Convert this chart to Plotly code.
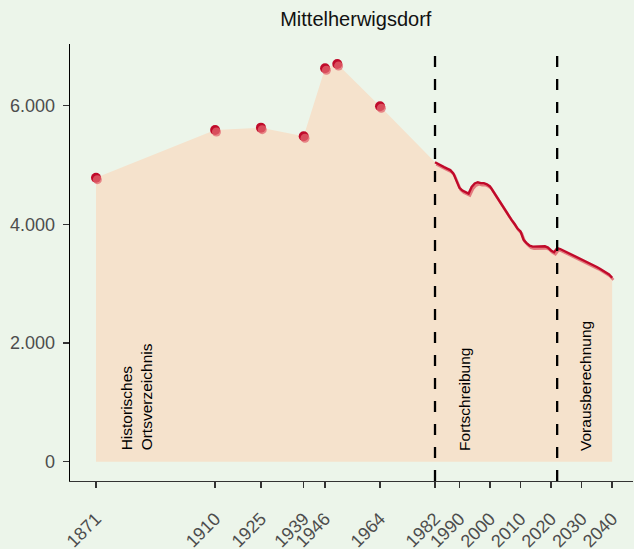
import plotly.graph_objects as go

# ---------------- data ----------------
years_hist = [1871, 1910, 1925, 1939, 1946, 1950, 1964]
pop_hist = [4787, 5591, 5630, 5485, 6631, 6703, 5990]

years_fort = [1982, 1983, 1984, 1985, 1986, 1987, 1988, 1989, 1990, 1991,
              1992, 1993, 1994, 1995, 1996, 1997, 1998, 1999, 2000, 2001,
              2002, 2003, 2004, 2005, 2006, 2007, 2008, 2009, 2010, 2011,
              2012, 2013, 2014, 2015, 2016, 2017, 2018, 2019, 2020, 2021]
pop_fort = [5046, 5015, 4990, 4965, 4940, 4915, 4860, 4720, 4615, 4570,
            4545, 4520, 4630, 4690, 4710, 4695, 4695, 4675, 4640, 4560,
            4480, 4400, 4300, 4220, 4160, 4080, 4010, 3930, 3880, 3740,
            3685, 3640, 3625, 3625, 3630, 3635, 3630, 3610, 3560, 3530]

years_proj = [2022, 2023, 2024, 2025, 2026, 2027, 2028, 2029, 2030, 2031,
              2032, 2033, 2034, 2035, 2036, 2037, 2038, 2039, 2040]
pop_proj = [3600, 3585, 3560, 3535, 3515, 3490, 3468, 3445, 3418, 3392,
            3365, 3338, 3310, 3282, 3253, 3222, 3190, 3155, 3100]

x_tickvals = [1871, 1910, 1925, 1939, 1946, 1964, 1982, 1990, 2000, 2010, 2020, 2030, 2040]
x_ticktext = ["1871", "1910", "1925", "1939", "1946", "1964", "1982", "1990",
              "2000", "2010", "2020", "2030", "2040"]
y_tickvals = [0, 2000, 4000, 6000]
y_ticktext = ["0", "2.000", "4.000", "6.000"]

period_breaks = [1982, 2022]
period_labels = ["Historisches<br>Ortsverzeichnis", "Fortschreibung", "Vorausberechnung"]
period_label_x = [1884.1, 1991.7, 2031.5]

title_text = "Mittelherwigsdorf"

# ---------------- style ----------------
BG = "#ECF5EA"
FILL = "#F5E2CC"
DARK = "#C00A2A"
LIGHT = "rgba(222,95,105,0.80)"
FONT = "Liberation Sans, Arial, sans-serif"

W, H = 634, 549
ML, MR, MT, MB = 70, 0, 44, 66
PW = W - ML - MR
PH = H - MT - MB
DX, DY = 1.3, 2.0  # shadow offset in px

main_xdom = [0, 1 - DX / PW]
main_ydom = [DY / PH, 1]
sh_xdom = [DX / PW, 1]
sh_ydom = [0, 1 - DY / PH]

xr = [1862.48, 2046.73]
yr = [-325, 7040]

all_years = years_hist + years_fort + years_proj
all_pop = pop_hist + pop_fort + pop_proj
line_years = years_fort + years_proj
line_pop = pop_fort + pop_proj

fig = go.Figure()

# area
fig.add_trace(go.Scatter(x=all_years, y=all_pop, mode="none", fill="tozeroy",
                         fillcolor=FILL, xaxis="x", yaxis="y", hoverinfo="skip",
                         showlegend=False))
# shadow line
fig.add_trace(go.Scatter(x=line_years, y=line_pop, mode="lines",
                         line=dict(color=LIGHT, width=2.6),
                         xaxis="x2", yaxis="y2", showlegend=False))
# dark line + dark markers
fig.add_trace(go.Scatter(x=line_years, y=line_pop, mode="lines",
                         line=dict(color=DARK, width=2.4),
                         xaxis="x3", yaxis="y3", showlegend=False))
fig.add_trace(go.Scatter(x=years_hist, y=pop_hist, mode="markers",
                         marker=dict(color=DARK, size=10, line=dict(width=0)),
                         xaxis="x3", yaxis="y3", showlegend=False))
# light markers on top (offset)
fig.add_trace(go.Scatter(x=years_hist, y=pop_hist, mode="markers",
                         marker=dict(color="rgba(225,100,110,0.75)", size=9, line=dict(width=0)),
                         xaxis="x4", yaxis="y4", showlegend=False))

hidden = dict(visible=False, showgrid=False, zeroline=False)

fig.update_layout(
    width=W, height=H,
    margin=dict(l=ML, r=MR, t=MT, b=MB, pad=0),
    paper_bgcolor=BG, plot_bgcolor="rgba(0,0,0,0)",
    font=dict(family=FONT, color="#4D4D4D"),
    showlegend=False,
    xaxis=dict(domain=main_xdom, anchor="y", range=xr, tickmode="array",
               tickvals=x_tickvals, ticktext=x_ticktext, tickangle=-45,
               ticks="outside", ticklen=6, tickwidth=1.5, tickcolor="#333333",
               ticklabelstandoff=13,
               tickfont=dict(size=18, color="#4D4D4D", family=FONT),
               showline=True, linecolor="#333333", linewidth=1.2,
               showgrid=False, zeroline=False, automargin=False),
    yaxis=dict(domain=main_ydom, anchor="x", range=yr, tickmode="array",
               tickvals=y_tickvals, ticktext=y_ticktext,
               ticks="outside", ticklen=6, tickwidth=1.5, tickcolor="#333333",
               ticklabelstandoff=4,
               tickfont=dict(size=18, color="#4D4D4D", family=FONT),
               showline=True, linecolor="#000000", linewidth=1.3,
               showgrid=False, zeroline=False, automargin=False),
    xaxis2=dict(domain=sh_xdom, anchor="y2", range=xr, **hidden),
    yaxis2=dict(domain=sh_ydom, anchor="x2", range=yr, **hidden),
    xaxis3=dict(domain=main_xdom, anchor="y3", range=xr, **hidden),
    yaxis3=dict(domain=main_ydom, anchor="x3", range=yr, **hidden),
    xaxis4=dict(domain=sh_xdom, anchor="y4", range=xr, **hidden),
    yaxis4=dict(domain=sh_ydom, anchor="x4", range=yr, **hidden),
    title=dict(text=title_text, xref="container", yref="container",
               x=355.8 / W, xanchor="center", y=1 - 19 / H, yanchor="middle",
               font=dict(size=20, color="#111111", family=FONT)),
)

for xb in period_breaks:
    fig.add_shape(type="line", xref="x", yref="y domain", x0=xb, x1=xb, y0=0, y1=1,
                  line=dict(color="#000000", width=2.3, dash="11px,12px"), layer="above")

for txt, xp in zip(period_labels, period_label_x):
    fig.add_annotation(x=xp, y=150, xref="x", yref="y", text=txt, textangle=-90,
                       showarrow=False, xanchor="center", yanchor="bottom", align="left",
                       font=dict(size=15.5, color="#000000", family=FONT))

fig.write_html("out.html", config={"displayModeBar": False, "staticPlot": True},
               post_script="document.body.style.margin='0px';document.body.style.overflow='hidden';")
